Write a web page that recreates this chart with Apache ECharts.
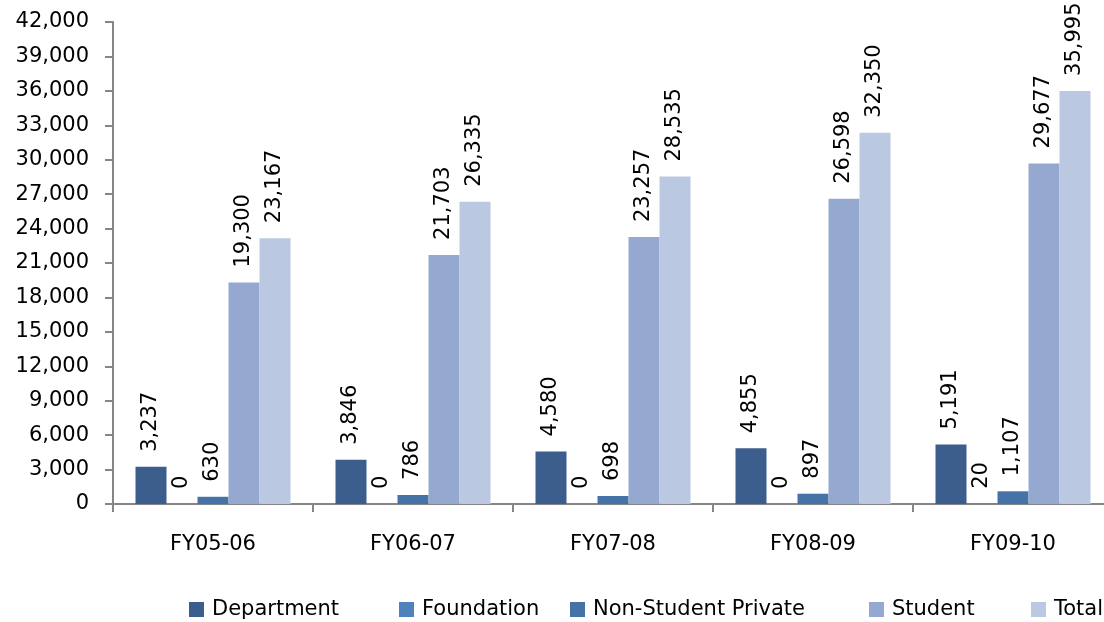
<!DOCTYPE html>
<html><head><meta charset="utf-8">
<script src="https://cdn.jsdelivr.net/npm/echarts@6/dist/echarts.min.js"></script>
<style>html,body{margin:0;padding:0;background:#fff;overflow:hidden}#c{width:1115px;height:622px}</style>
</head><body><div id="c"></div>
<script>
const categories = ['FY05-06','FY06-07','FY07-08','FY08-09','FY09-10'];
const department = [3237,3846,4580,4855,5191];
const foundation = [0,0,0,0,20];
const nonStudentPrivate = [630,786,698,897,1107];
const student = [19300,21703,23257,26598,29677];
const total = [23167,26335,28535,32350,35995];
const seriesNames = ['Department','Foundation','Non-Student Private','Student','Total'];
const colors = ['#3B5E8C','#4F81BD','#4572A7','#95A9D0','#BBC8E2'];
const values = [department,foundation,nonStudentPrivate,student,total];
const legendLeft = [189,399,570,869,1031];

const font = '"DejaVu Sans", sans-serif';
const chart = echarts.init(document.getElementById('c'));
chart.setOption({
  animation:false,
  textStyle:{fontFamily:font},
  grid:{left:113,top:22,right:2,bottom:118,containLabel:false},
  legend: seriesNames.map((n,i)=>({data:[n],left:legendLeft[i],top:599,itemWidth:15,itemHeight:15,padding:0,icon:'rect',
    textStyle:{fontFamily:font,fontSize:21,color:'#000',padding:[0,0,0,3]}})),
  xAxis:{type:'category',data:categories,
    axisLine:{lineStyle:{color:'#868686',width:2}},
    axisTick:{show:true,length:8,lineStyle:{color:'#868686',width:2},alignWithLabel:false},
    axisLabel:{color:'#000',fontSize:21,margin:30,fontFamily:font}},
  yAxis:{type:'value',min:0,max:42000,interval:3000,
    axisLine:{show:true,lineStyle:{color:'#868686',width:2}},
    axisTick:{show:true,length:8,inside:false,lineStyle:{color:'#868686',width:2}},
    splitLine:{show:false},
    axisLabel:{color:'#000',fontSize:21,margin:24,fontFamily:font,formatter:v=>v.toLocaleString('en-US')}},
  series: seriesNames.map((n,i)=>({name:n,type:'bar',data:values[i],barGap:'0%',barCategoryGap:'22.5%',
    itemStyle:{color:colors[i]},
    label:{show:true,position:'top',rotate:90,align:'left',verticalAlign:'middle',distance:15,
      fontSize:21,color:'#000',fontFamily:font,formatter:p=>p.value.toLocaleString('en-US')}}))
});
</script></body></html>
